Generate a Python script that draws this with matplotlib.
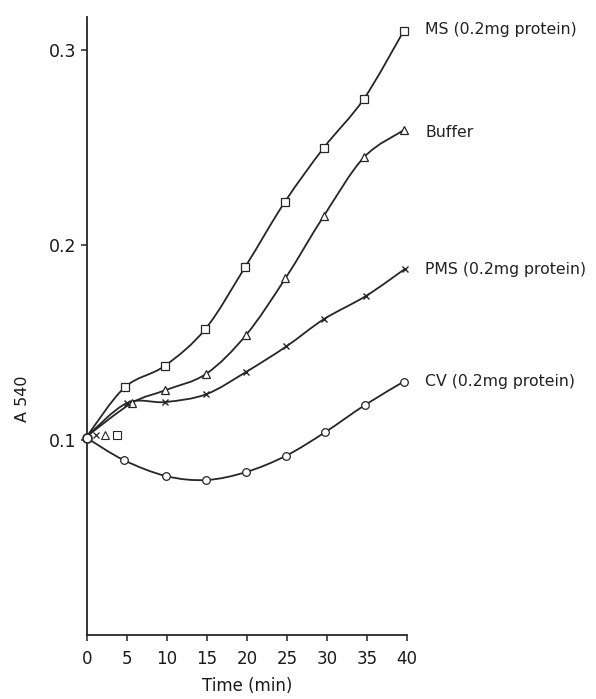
import numpy as np
import matplotlib
matplotlib.use("Agg")
import matplotlib.pyplot as plt
from matplotlib.path import Path
from matplotlib.patches import PathPatch

# ---- data ----
ms_t = [0, 4.7, 9.7, 14.8, 19.8, 24.7, 29.6, 34.6, 39.6]
ms_y = [0.102, 0.127, 0.138, 0.157, 0.189, 0.222, 0.250, 0.275, 0.310]

buf_t = [0, 5.6, 9.8, 14.9, 19.9, 24.8, 29.6, 34.6, 39.6]
buf_y = [0.102, 0.119, 0.1256, 0.134, 0.154, 0.183, 0.215, 0.245, 0.259]

pms_t = [0, 5.0, 9.8, 14.9, 19.9, 24.9, 29.6, 34.9, 39.8]
pms_y = [0.102, 0.119, 0.1195, 0.1235, 0.135, 0.148, 0.162, 0.174, 0.188]

cv_t = [0, 4.6, 9.9, 14.9, 19.9, 24.9, 29.75, 34.75, 39.6]
cv_y = [0.101, 0.0897, 0.0815, 0.0795, 0.0836, 0.092, 0.104, 0.118, 0.130]

# small start-value symbols drawn next to the origin
start_t = [1.1, 2.3, 3.7]
start_y = [0.1025, 0.1025, 0.1025]
start_markers = ['x', '^', 's']

labels = ["MS (0.2mg protein)", "Buffer", "PMS (0.2mg protein)", "CV (0.2mg protein)"]
label_y = [0.3105, 0.258, 0.1875, 0.130]

xticks = [0, 5, 10, 15, 20, 25, 30, 35, 40]
yticks = [0.1, 0.2, 0.3]
ytick_labels = ["0.1", "0.2", "0.3"]

LINE = '#262626'

fig = plt.figure(figsize=(5.96, 6.99), dpi=100)
ax = fig.add_axes([0.146, 0.0916, 0.537, 0.884])
ax.set_xlim(0, 40)
ax.set_ylim(0, 0.317)


def smooth_path(t, y):
    pts = np.column_stack([t, y]).astype(float)
    n = len(pts)
    verts = [pts[0]]
    codes = [Path.MOVETO]
    for i in range(n - 1):
        p0 = pts[i - 1] if i > 0 else pts[i]
        p1 = pts[i]
        p2 = pts[i + 1]
        p3 = pts[i + 2] if i + 2 < n else pts[i + 1]
        c1 = p1 + (p2 - p0) / 6.0
        c2 = p2 - (p3 - p1) / 6.0
        verts += [c1, c2, p2]
        codes += [Path.CURVE4] * 3
    return Path(verts, codes)


series = [(ms_t, ms_y, 's'), (buf_t, buf_y, '^'), (pms_t, pms_y, 'x'), (cv_t, cv_y, 'o')]
for t, y, m in series:
    ax.add_patch(PathPatch(smooth_path(t, y), facecolor='none', edgecolor=LINE,
                           lw=1.3, zorder=2))
    if m == 'x':
        ax.plot(t[1:], y[1:], linestyle='none', marker='x', ms=4.5, mew=1.0,
                color=LINE, zorder=3, clip_on=False)
    else:
        ax.plot(t[1:], y[1:], linestyle='none', marker=m, ms=5.5, mew=0.9,
                mfc='white', mec=LINE, zorder=3, clip_on=False)

# origin point
ax.plot([cv_t[0]], [cv_y[0]], linestyle='none', marker='o', ms=6.5, mew=1.2,
        mfc='white', mec=LINE, zorder=4, clip_on=False)
for tt, yy, m in zip(start_t, start_y, start_markers):
    if m == 'x':
        ax.plot([tt], [yy], linestyle='none', marker=m, ms=4.5, mew=0.9, color=LINE, zorder=3)
    else:
        ax.plot([tt], [yy], linestyle='none', marker=m, ms=5.5, mew=0.8,
                mfc='white', mec=LINE, zorder=3)

for lab, ly in zip(labels, label_y):
    ax.text(42.3, ly, lab, fontsize=11.3, color='#222222', va='center', ha='left',
            clip_on=False)

for s in ['top', 'right']:
    ax.spines[s].set_visible(False)
for s in ['left', 'bottom']:
    ax.spines[s].set_color(LINE)
    ax.spines[s].set_linewidth(1.3)

ax.set_xticks(xticks)
ax.set_xticklabels([str(v) for v in xticks], fontsize=12)
ax.set_yticks(yticks)
ax.set_yticklabels(ytick_labels, fontsize=12.5)
ax.tick_params(axis='both', direction='out', length=4, width=1.1, color=LINE,
               labelcolor='#1a1a1a')
ax.tick_params(axis='x', pad=7)
ax.tick_params(axis='y', pad=4)

ax.set_xlabel("Time (min)", fontsize=12, color='#1a1a1a', labelpad=6)
fig.text(0.037, 0.43, "A 540", rotation=90, fontsize=11.5, color='#1a1a1a',
         ha='center', va='center')

fig.savefig("out.png", dpi=100, facecolor='white')
